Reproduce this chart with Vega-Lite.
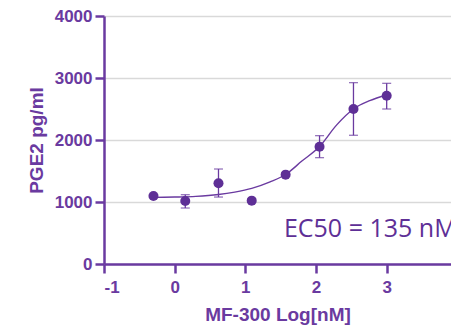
{
  "$schema": "https://vega.github.io/schema/vega-lite/v6.json",
  "autosize": {"type": "none"},
  "width": 347,
  "height": 248,
  "padding": {"left": 104, "top": 16, "right": 0, "bottom": 65},
  "background": "white",
  "config": {
    "view": {"stroke": null},
    "axis": {
      "labelFont": "Liberation Sans", "labelFontWeight": "bold", "labelFontSize": 17, "labelColor": "#6a3aa0",
      "titleFont": "Liberation Sans", "titleFontWeight": "bold", "titleFontSize": 19, "titleColor": "#6a3aa0",
      "domainColor": "#6a3aa0", "domainWidth": 2.5, "tickColor": "#6a3aa0", "tickWidth": 2.5, "tickSize": 9,
      "labelExpr": "'' + datum.value"
    }
  },
  "datasets": {
    "points": [
      {"logc": -0.3, "pge2": 1097},
      {"logc": 0.15, "pge2": 1016},
      {"logc": 0.62, "pge2": 1301},
      {"logc": 1.09, "pge2": 1022},
      {"logc": 1.57, "pge2": 1441},
      {"logc": 2.05, "pge2": 1892},
      {"logc": 2.53, "pge2": 2500},
      {"logc": 3.0, "pge2": 2715}
    ],
    "errors": [
      {"logc": 0.15, "lo": 903, "hi": 1118},
      {"logc": 0.62, "lo": 1080, "hi": 1532},
      {"logc": 2.05, "lo": 1715, "hi": 2070},
      {"logc": 2.53, "lo": 2076, "hi": 2925},
      {"logc": 3.0, "lo": 2500, "hi": 2914}
    ],
    "curve": [
      {"logc": -0.3, "fit": 1075},
      {"logc": 0.0, "fit": 1080},
      {"logc": 0.3, "fit": 1090},
      {"logc": 0.62, "fit": 1120},
      {"logc": 0.85, "fit": 1160},
      {"logc": 1.09, "fit": 1220},
      {"logc": 1.35, "fit": 1325},
      {"logc": 1.58, "fit": 1452},
      {"logc": 1.8, "fit": 1660},
      {"logc": 2.05, "fit": 1895},
      {"logc": 2.29, "fit": 2240},
      {"logc": 2.53, "fit": 2500},
      {"logc": 2.76, "fit": 2634},
      {"logc": 3.0, "fit": 2726}
    ],
    "label": [{"logc": 1.546, "pge2": 440, "text": "EC50 = 135 nM"}]
  },
  "layer": [
    {
      "data": {"name": "curve"},
      "mark": {"type": "line", "color": "#6a3aa0", "strokeWidth": 1.4, "interpolate": "monotone"},
      "encoding": {
        "x": {"field": "logc", "type": "quantitative", "scale": {"domain": [-1, 3.91], "nice": false},
          "axis": {"values": [-1, 0, 1, 2, 3], "grid": false, "title": "MF-300 Log[nM]", "labelPadding": 6, "titlePadding": 10}},
        "y": {"field": "fit", "type": "quantitative", "scale": {"domain": [0, 4000], "nice": false},
          "axis": {"values": [0, 1000, 2000, 3000, 4000], "grid": true, "gridColor": "#d9d9d9", "gridWidth": 1.5, "title": "PGE2 pg/ml", "labelPadding": 3, "titlePadding": 8}}
      }
    },
    {
      "data": {"name": "errors"},
      "mark": {"type": "rule", "color": "#6a3aa0", "strokeWidth": 1.3},
      "encoding": {
        "x": {"field": "logc", "type": "quantitative"},
        "y": {"field": "lo", "type": "quantitative"},
        "y2": {"field": "hi"}
      }
    },
    {
      "data": {"name": "errors"},
      "mark": {"type": "tick", "orient": "horizontal", "color": "#6a3aa0", "size": 9, "thickness": 1.3},
      "encoding": {
        "x": {"field": "logc", "type": "quantitative"},
        "y": {"field": "lo", "type": "quantitative"}
      }
    },
    {
      "data": {"name": "errors"},
      "mark": {"type": "tick", "orient": "horizontal", "color": "#6a3aa0", "size": 9, "thickness": 1.3},
      "encoding": {
        "x": {"field": "logc", "type": "quantitative"},
        "y": {"field": "hi", "type": "quantitative"}
      }
    },
    {
      "data": {"name": "points"},
      "mark": {"type": "circle", "color": "#5e2f96", "opacity": 1, "size": 100},
      "encoding": {
        "x": {"field": "logc", "type": "quantitative"},
        "y": {"field": "pge2", "type": "quantitative"}
      }
    },
    {
      "data": {"name": "label"},
      "mark": {"type": "text", "align": "left", "baseline": "alphabetic", "font": "Open Sans", "fontSize": 25, "color": "#5e2f96"},
      "encoding": {
        "x": {"field": "logc", "type": "quantitative"},
        "y": {"field": "pge2", "type": "quantitative"},
        "text": {"field": "text"}
      }
    }
  ]
}
